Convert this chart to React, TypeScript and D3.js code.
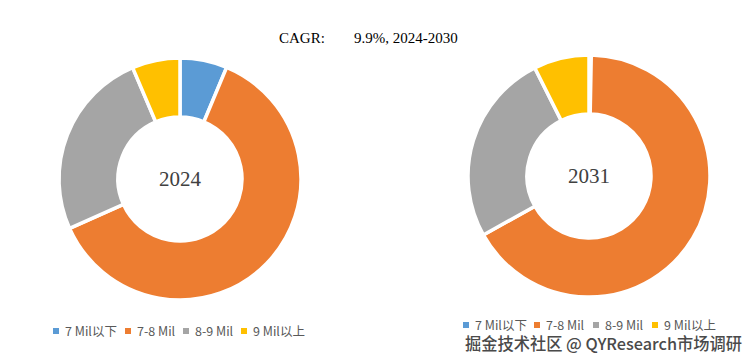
import React from "react";
import * as d3 from "d3";

const categories = ["7 Mil以下", "7-8 Mil", "8-9 Mil", "9 Mil以上"];
const colors = ["#5B9BD5", "#ED7D31", "#A5A5A5", "#FFC000"];
const values2024 = [6.3, 62.0, 25.3, 6.4];
const values2031 = [0.3, 66.6, 25.7, 7.4];
const years = ["2024", "2031"];
const titleLeft = "CAGR:";
const titleRight = "9.9%, 2024-2030";
const watermark = "掘金技术社区 @ QYResearch市场调研";

const W = 754;
const H = 362;

function Donut({ cx, cy, values, label }: { cx: number; cy: number; values: number[]; label: string }) {
  const pie = d3.pie<number>().sort(null).startAngle(0).endAngle(2 * Math.PI);
  const arc = d3.arc<d3.PieArcDatum<number>>().innerRadius(62).outerRadius(121);
  const arcs = pie(values);
  return (
    <g transform={`translate(${cx},${cy})`}>
      {arcs.map((a, i) => (
        <path key={i} d={arc(a) || ""} fill={colors[i]} stroke="#fff" strokeWidth={3.5} strokeLinejoin="miter" />
      ))}
      <text
        x={0}
        y={7}
        textAnchor="middle"
        fontFamily="'Liberation Serif', 'DejaVu Serif', serif"
        fontSize={21}
        fill="#404040"
      >
        {label}
      </text>
    </g>
  );
}

function Legend({ y, positions }: { y: number; positions: number[] }) {
  return (
    <g>
      {categories.map((c, i) => (
        <g key={c} transform={`translate(${positions[i]},${y})`}>
          <rect x={0} y={-3} width={6} height={6} fill={colors[i]} />
          <text x={12} y={4.5} fontFamily="'Noto Sans CJK SC', 'Noto Sans', sans-serif" fontSize={12.5} fill="#595959">
            {c}
          </text>
        </g>
      ))}
    </g>
  );
}

export default function App() {
  return (
    <svg
      width={W}
      height={H}
      viewBox={`0 0 ${W} ${H}`}
      style={{ position: "absolute", left: 0, top: 0, background: "#fff" }}
    >
      <rect x={0} y={0} width={W} height={H} fill="#fff" />
      <text x={279} y={43} fontFamily="'Liberation Serif', 'DejaVu Serif', serif" fontSize={15} fill="#000">
        {titleLeft}
      </text>
      <text x={354} y={43} fontFamily="'Liberation Serif', 'DejaVu Serif', serif" fontSize={15} fill="#000">
        {titleRight}
      </text>
      <Donut cx={180} cy={179} values={values2024} label={years[0]} />
      <Donut cx={589} cy={176} values={values2031} label={years[1]} />
      <Legend y={331} positions={[53, 125, 183, 241]} />
      <Legend y={325} positions={[463, 534, 593, 652]} />
      <text
        x={465}
        y={350}
        fontFamily="'Noto Sans CJK SC', sans-serif"
        fontSize={16.5}
        fontWeight={500}
        fill="#4a4a4a"
        textLength={277}
        lengthAdjust="spacingAndGlyphs"
      >
        {watermark}
      </text>
    </svg>
  );
}
